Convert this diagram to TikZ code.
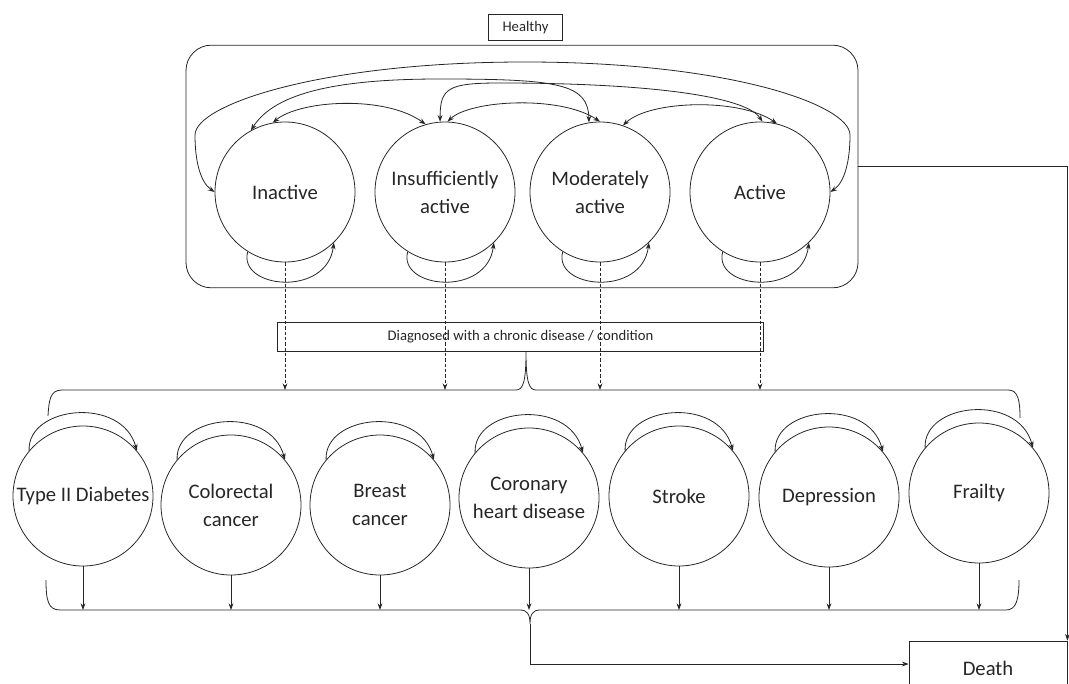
\documentclass[tikz,border=0pt]{standalone}
\usepackage{fontspec}
\setmainfont{Carlito}
\usetikzlibrary{arrows.meta}

\begin{document}
\begin{tikzpicture}[x=0.75pt, y=-0.75pt, color=black!85, line width=0.6pt,
  >={Stealth[length=5pt,width=3.6pt]},
  every node/.style={font=\fontsize{15.5}{21}\selectfont, align=center},
  state/.style={circle, draw, minimum size=105pt, inner sep=0pt},
  smallbox/.style={draw, rectangle, inner sep=0pt, font=\fontsize{11}{13}\selectfont},
  dotted arrow/.style={->, dash pattern=on 2.5pt off 1.5pt}]
\useasboundingbox (0,0) rectangle (1069,684);
\clip (0,0) rectangle (1069,684);

\node[smallbox, minimum width=56pt, minimum height=20pt] (healthy) at (525.5,27.5) {Healthy};
\node[draw, rounded corners=19pt, minimum width=504pt, minimum height=182pt] (hbox) at (522,166.5) {};

\node[state] (inact) at (285,192) {Inactive};
\node[state] (insuf) at (445,192) {Insufficiently\\active};
\node[state] (moder) at (600,192) {Moderately\\active};
\node[state] (activ) at (760,192) {Active};

\node[smallbox, minimum width=365pt, minimum height=21.75pt] (diag) at (520.5,336.5) {Diagnosed with a chronic disease / condition};

\node[state] (diab) at (83,496) {Type II Diabetes};
\node[state] (colo) at (231,505) {Colorectal\\cancer};
\node[state] (brea) at (380,505) {Breast\\cancer};
\node[state] (coro) at (529,498) {Coronary\\heart disease};
\node[state] (strk) at (679,496) {Stroke};
\node[state] (depr) at (829,497) {Depression};
\node[state] (frai) at (979,493) {Frailty};

\node[draw, minimum width=118.5pt, minimum height=34.5pt, text height=17pt, text depth=0pt] (death) at (988,664) {Death};

\coordinate (topbar) at (526,390);
\coordinate (botbar) at (530,610);
\coordinate (bottip) at (530,624);

\draw[<->] (inact.west) .. controls (200,182) and (195,160) .. (195,135) .. controls (195,105) and (320,62) .. (525,62) .. controls (730,62) and (850,105) .. (850,135) .. controls (850,160) and (845,182) .. (activ.east);
\draw[<->] (inact.119) .. controls (275,92) and (340,79) .. (440,79) .. controls (560,79) and (588,84) .. (moder.99);
\draw[<->] (insuf.94) .. controls (440,88) and (448,83) .. (500,83) .. controls (640,83) and (745,95) .. (activ.88);
\draw[<->] (inact.100) .. controls (300,100) and (385,95) .. (insuf.106);
\draw[<->] (insuf.88) .. controls (470,100) and (560,95) .. (moder.90);
\draw[<->] (moder.71) .. controls (650,100) and (740,98) .. (activ.76);

\draw[->] (inact.238) .. controls +(-10,37) and +(-7,55) .. (inact.314);
\draw[->] (insuf.238) .. controls +(-10,37) and +(-7,55) .. (insuf.314);
\draw[->] (moder.238) .. controls +(-10,37) and +(-7,55) .. (moder.314);
\draw[->] (activ.238) .. controls +(-10,37) and +(-7,55) .. (activ.314);

\draw[dotted arrow] (inact.south) -- (inact.south |- topbar);
\draw[dotted arrow] (insuf.south) -- (insuf.south |- topbar);
\draw[dotted arrow] (moder.south) -- (moder.south |- topbar);
\draw[dotted arrow] (activ.south) -- (activ.south |- topbar);

\draw (48,416) .. controls (49,400) and (50,390) .. (62,390) -- (516,390) .. controls (523,390) and (526,382) .. (526,352) .. controls (526,382) and (529,390) .. (536,390) -- (1008,390) .. controls (1018,390) and (1020,400) .. (1020,418);

\draw[->] (diab.140) .. controls +(-2,-45) and +(-15,-55) .. (diab.40);
\draw[->] (colo.140) .. controls +(-2,-45) and +(-15,-55) .. (colo.40);
\draw[->] (brea.140) .. controls +(-2,-45) and +(-15,-55) .. (brea.40);
\draw[->] (coro.140) .. controls +(-2,-45) and +(-15,-55) .. (coro.40);
\draw[->] (strk.140) .. controls +(-2,-45) and +(-15,-55) .. (strk.40);
\draw[->] (depr.140) .. controls +(-2,-45) and +(-15,-55) .. (depr.40);
\draw[->] (frai.140) .. controls +(-2,-45) and +(-15,-55) .. (frai.40);

\draw[->] (diab.south) -- (diab.south |- botbar);
\draw[->] (colo.south) -- (colo.south |- botbar);
\draw[->] (brea.south) -- (brea.south |- botbar);
\draw[->] (coro.south) -- (coro.south |- botbar);
\draw[->] (strk.south) -- (strk.south |- botbar);
\draw[->] (depr.south) -- (depr.south |- botbar);
\draw[->] (frai.south) -- (frai.south |- botbar);

\draw (46,580) .. controls (46,600) and (48,610) .. (60,610) -- (520,610) .. controls (527,610) and (530,614) .. (530,624) .. controls (530,614) and (533,610) .. (540,610) -- (1006,610) .. controls (1016,610) and (1019,600) .. (1019,580);

\draw[->] (bottip) |- (death.west);
\draw[->] (hbox.east) -| (death.north east);
\end{tikzpicture}
\end{document}
